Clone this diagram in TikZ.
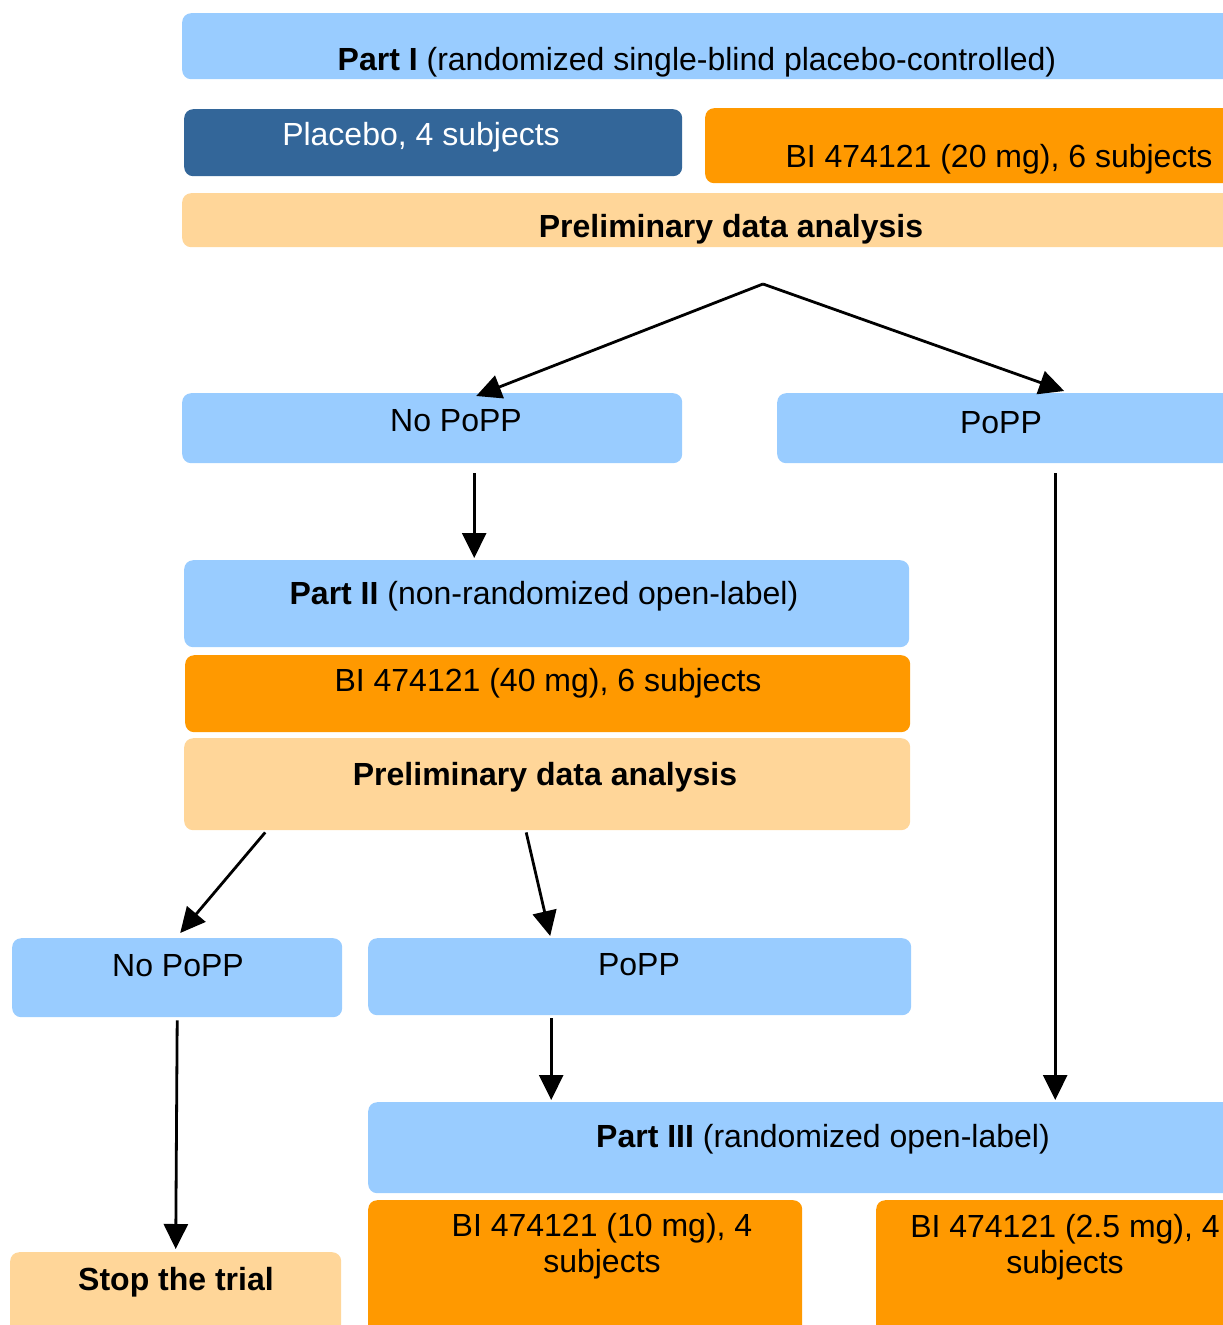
\documentclass[tikz,border=0pt]{standalone}
\usepackage{fontspec}
\setmainfont{Liberation Sans}
\usetikzlibrary{arrows.meta}
\definecolor{lblue}{HTML}{99CCFF}
\definecolor{dblue}{HTML}{336699}
\definecolor{orng}{HTML}{FF9900}
\definecolor{peach}{HTML}{FFD699}
\tikzset{
  box/.style={rectangle, rounded corners=9pt, draw=none, inner sep=0pt, anchor=north west},
  txt/.style={inner sep=0pt, anchor=base, font=\fontsize{32}{36}\selectfont},
  mtxt/.style={inner sep=0pt, anchor=center, align=center, font=\fontsize{32}{36}\selectfont},
  arr/.style={line width=2.8pt, -{Triangle[length=25pt,width=24pt]}}
}
\begin{document}
\begin{tikzpicture}[x=1pt,y=-1pt]
\useasboundingbox (0,0) rectangle (1223,1325);
\clip (0,0) rectangle (1223,1325);
% Part I
\node[box, fill=lblue, minimum width=1060pt, minimum height=66pt] (p1) at (182,13) {};
\node[txt] (p1t) at (697,70) {\textbf{Part I} (randomized single-blind placebo-controlled)};
\node[box, fill=dblue, minimum width=498pt, minimum height=67pt] (plac) at (184,109) {};
\node[txt, text=white] (plact) at (421,145) {Placebo, 4 subjects};
\node[box, fill=orng, minimum width=540pt, minimum height=75pt] (bi20) at (705,108) {};
\node[txt] (bi20t) at (999,167) {BI 474121 (20 mg), 6 subjects};
\node[box, fill=peach, minimum width=1060pt, minimum height=54pt] (prel1) at (182,193) {};
\node[txt] (prel1t) at (731,237) {\textbf{Preliminary data analysis}};
% first decision
\node[box, fill=lblue, minimum width=500pt, minimum height=70pt] (nop1) at (182,393) {};
\node[txt] (nop1t) at (456,431) {No PoPP};
\node[box, fill=lblue, minimum width=470pt, minimum height=70pt] (pop1) at (777,393) {};
\node[txt] (pop1t) at (1001,433) {PoPP};
% Part II
\node[box, fill=lblue, minimum width=725pt, minimum height=87pt] (p2) at (184,560) {};
\node[txt] (p2t) at (544,604) {\textbf{Part II} (non-randomized open-label)};
\node[box, fill=orng, minimum width=725pt, minimum height=77pt] (bi40) at (185,655) {};
\node[txt] (bi40t) at (548,691) {BI 474121 (40 mg), 6 subjects};
\node[box, fill=peach, minimum width=726pt, minimum height=92pt] (prel2) at (184,738) {};
\node[txt] (prel2t) at (545,785) {\textbf{Preliminary data analysis}};
% second decision
\node[box, fill=lblue, minimum width=330pt, minimum height=79pt] (nop2) at (12,938) {};
\node[txt] (nop2t) at (178,976) {No PoPP};
\node[box, fill=lblue, minimum width=543pt, minimum height=77pt] (pop2) at (368,938) {};
\node[txt] (pop2t) at (639,975) {PoPP};
% Part III
\node[box, fill=lblue, minimum width=880pt, minimum height=91pt] (p3) at (368,1102) {};
\node[txt] (p3t) at (823,1147) {\textbf{Part III} (randomized open-label)};
\node[box, fill=orng, minimum width=434pt, minimum height=150pt] (bi10) at (368,1200) {};
\node[mtxt] (bi10t) at (602,1246) {BI 474121 (10 mg), 4\\subjects};
\node[box, fill=orng, minimum width=380pt, minimum height=150pt] (bi25) at (876,1200) {};
\node[mtxt] (bi25t) at (1065,1247) {BI 474121 (2.5 mg), 4\\subjects};
\node[box, fill=peach, minimum width=331pt, minimum height=100pt] (stop) at (10,1252) {};
\node[txt] (stopt) at (176,1290) {\textbf{Stop the trial}};
% connectors
\coordinate (s1) at (763,284);
\draw[arr] (s1) -- ([xshift=44pt,yshift=-3pt]nop1.north);
\draw[arr] (s1) -- ([xshift=52pt,yshift=2pt]pop1.north);
\draw[arr] ([xshift=42pt,yshift=-10pt]nop1.south) -- ([xshift=-72.5pt,yshift=2pt]p2.north);
\draw[arr] ([xshift=43pt,yshift=-10pt]pop1.south) -- ([xshift=247pt,yshift=2pt]p3.north);
\draw[arr] ([xshift=-282pt,yshift=-2pt]prel2.south) -- ([xshift=3pt,yshift=5pt]nop2.north);
\draw[arr] ([xshift=-21pt,yshift=-2pt]prel2.south) -- ([xshift=-89.5pt,yshift=2pt]pop2.north);
\draw[arr] ([yshift=-3pt]nop2.south) -- ([yshift=3pt]stop.north);
\draw[arr] ([xshift=-88.5pt,yshift=-3pt]pop2.south) -- ([xshift=-257pt,yshift=2pt]p3.north);
\end{tikzpicture}
\end{document}
